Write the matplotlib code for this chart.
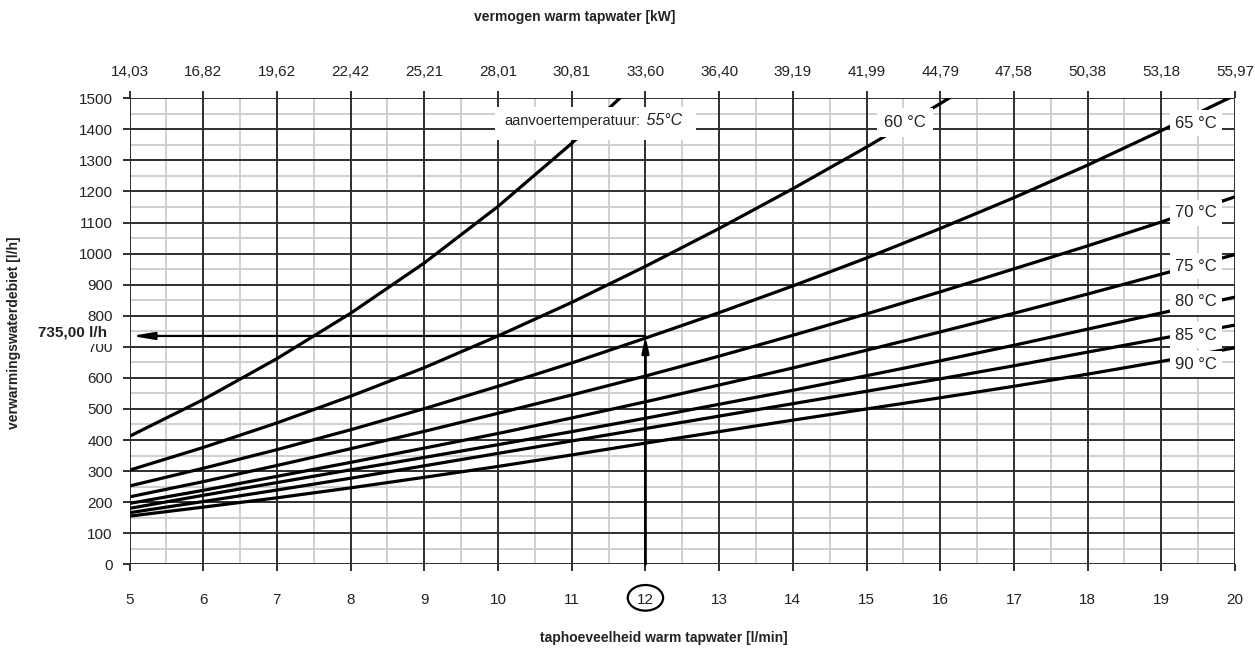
import matplotlib
matplotlib.use("Agg")
import matplotlib.pyplot as plt
from matplotlib.patches import Ellipse
from matplotlib.transforms import blended_transform_factory

plt.rcParams["font.family"] = ["Liberation Sans", "DejaVu Sans"]

# tap flow [l/min] and matching tap-water power [kW] on the top axis
FLOW = [5, 6, 7, 8, 9, 10, 11, 12, 13, 14, 15, 16, 17, 18, 19, 20]
POWER_KW = ["14,03", "16,82", "19,62", "22,42", "25,21", "28,01", "30,81", "33,60",
            "36,40", "39,19", "41,99", "44,79", "47,58", "50,38", "53,18", "55,97"]

# heating water flow [l/h] per supply temperature
T55 = [412, 530, 662, 808, 970, 1152, 1355, 1578]
T60 = [303, 376, 455, 541, 633, 735, 843, 959, 1081, 1209, 1343, 1483, 1629]
T65 = [252, 309, 369, 433, 501, 573, 648, 728, 810, 896, 986, 1081, 1180, 1285, 1396, 1510]
T70 = [217, 266, 318, 372, 428, 486, 545, 606, 670, 737, 806, 877, 951, 1025, 1102, 1183]
T75 = [196, 238, 283, 328, 374, 421, 471, 523, 577, 632, 689, 748, 808, 870, 934, 997]
T80 = [180, 222, 263, 304, 344, 385, 427, 470, 515, 560, 607, 655, 705, 757, 809, 860]
T85 = [166, 202, 239, 277, 317, 357, 397, 437, 477, 517, 557, 597, 639, 683, 727, 770]
T90 = [155, 184, 214, 246, 280, 315, 352, 390, 427, 464, 500, 536, 573, 612, 653, 697]

LABELS = ["65 °C", "70 °C", "75 °C", "80 °C", "85 °C", "90 °C"]
LABEL_Y = [1419, 1132, 959, 845, 738, 644]

EXAMPLE_FLOW = 12
EXAMPLE_DEBIET = 735.0

DARK = "#2e2e2e"
LIGHT = "#cdcdcd"
TXT = "#222222"

fig = plt.figure(figsize=(12.55, 6.51), dpi=100)
ax = fig.add_axes([0.1032, 0.1332, 0.8809, 0.7158])
ax.set_xlim(5, 20)
ax.set_ylim(0, 1500)

# grid: light half steps, dark whole steps
for x in range(5, 20):
    ax.axvline(x + 0.5, color=LIGHT, lw=1.3, zorder=1)
for y in range(50, 1500, 100):
    ax.axhline(y, color=LIGHT, lw=1.3, zorder=1)
for x in FLOW:
    ax.axvline(x, color=DARK, lw=1.4, zorder=2)
for y in range(0, 1501, 100):
    ax.axhline(y, color=DARK, lw=1.4, zorder=2)
for s in ax.spines.values():
    s.set_visible(False)

curves = [T55, T60, T65, T70, T75, T80, T85, T90]
for vals in curves:
    ax.plot(FLOW[:len(vals)], vals, color="black", lw=2.3, zorder=3,
            solid_capstyle="butt")

# curve labels in white boxes near the right edge
box = dict(facecolor="white", edgecolor="none", pad=4)
for lab, y in zip(LABELS, LABEL_Y):
    ax.text(19.47, y, lab, ha="center", va="center", fontsize=12,
            color=TXT, bbox=box, zorder=5)
ax.text(15.52, 1421, "60 °C", ha="center", va="center", fontsize=12,
        color=TXT, bbox=dict(facecolor="white", edgecolor="none", pad=5), zorder=5)
ax.fill_between([9.96, 12.68], 1365, 1471, color="white", zorder=5, lw=0)
ax.text(11.93, 1427, "aanvoertemperatuur:", ha="right", va="center",
        fontsize=10.5, color=TXT, zorder=6)
ax.text(11.95, 1427, " 55°C", ha="left", va="center", fontsize=11.5,
        style="italic", color=TXT, zorder=6)

# worked example: 12 l/min -> 735 l/h
ax.annotate("", xy=(EXAMPLE_FLOW, EXAMPLE_DEBIET), xytext=(EXAMPLE_FLOW, 0),
            arrowprops=dict(arrowstyle="-|>,head_length=0.9,head_width=0.2",
                            color="black", lw=2.0, shrinkA=0, shrinkB=0),
            zorder=4)
ax.annotate("", xy=(5.03, EXAMPLE_DEBIET), xytext=(EXAMPLE_FLOW, EXAMPLE_DEBIET),
            arrowprops=dict(arrowstyle="-|>,head_length=1.3,head_width=0.22",
                            color="black", lw=1.6, shrinkA=0, shrinkB=0),
            zorder=4)
ax.text(-0.0205, EXAMPLE_DEBIET + 10, "735,00 l/h",
        transform=blended_transform_factory(ax.transAxes, ax.transData),
        ha="right", va="center", fontsize=11, fontweight="bold", color=TXT,
        bbox=dict(facecolor="white", edgecolor="none", pad=3), zorder=10)

# axes ticks and labels
ax.set_xticks(FLOW)
ax.set_xticklabels([str(v) for v in FLOW])
ax.set_yticks(range(0, 1501, 100))
ax.tick_params(axis="both", direction="out", length=5, width=1.4, color=DARK,
               labelsize=11, labelcolor=TXT)
ax.tick_params(axis="x", pad=16)
ax.tick_params(axis="y", pad=7)

top = ax.secondary_xaxis("top")
top.set_xticks(FLOW)
top.set_xticklabels(POWER_KW)
top.tick_params(direction="out", length=5, width=1.4, color=DARK, labelsize=11,
                labelcolor=TXT, pad=9)
for s in top.spines.values():
    s.set_visible(False)

# axis titles
fig.text(575 / 1255, 1 - 17 / 651, "vermogen warm tapwater [kW]", ha="center",
         va="center", fontsize=10, fontweight="bold", color=TXT)
fig.text(664 / 1255, 1 - 638 / 651, "taphoeveelheid warm tapwater [l/min]",
         ha="center", va="center", fontsize=10, fontweight="bold", color=TXT)
ax.set_ylabel("verwarmingswaterdebiet [l/h]", fontsize=10, fontweight="bold",
              color=TXT)
ax.yaxis.set_label_coords(-0.0985, 0.497)

# circle around the example flow on the bottom axis
trans = blended_transform_factory(ax.transData, ax.transAxes)
ax.add_patch(Ellipse((EXAMPLE_FLOW, -0.072), 0.48, 0.055, transform=trans,
                     fill=False, edgecolor="black", lw=1.6, clip_on=False))

fig.savefig("out.png", dpi=100)
